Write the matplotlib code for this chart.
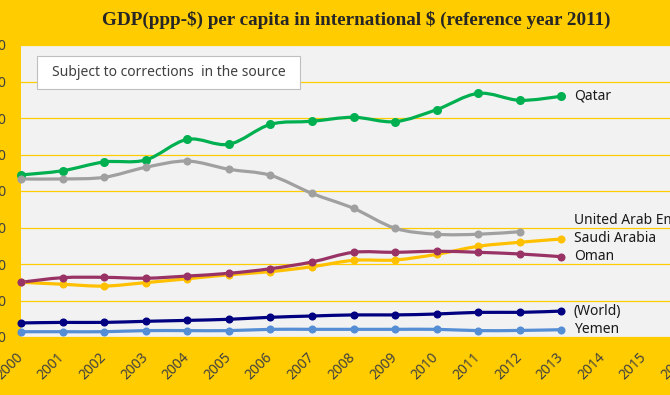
import matplotlib
matplotlib.use("Agg")
import matplotlib.pyplot as plt
from matplotlib.path import Path
from matplotlib.patches import PathPatch, Rectangle
from matplotlib.ticker import FuncFormatter
import numpy as np

years = list(range(2000, 2014))

qatar = [88.8, 91.1, 95.9, 97.0, 108.3, 105.6, 116.5, 118.2, 120.4, 118.0, 124.6, 133.5, 129.7, 131.9]
uae = [86.6, 86.6, 87.5, 93.0, 96.4, 91.9, 88.6, 78.7, 70.5, 59.6, 56.3, 56.3, 57.7]
saudi = [30.0, 28.9, 27.9, 29.8, 31.9, 34.1, 35.8, 38.5, 42.0, 42.2, 45.3, 49.7, 51.9, 53.7]
oman = [30.0, 32.5, 32.7, 32.2, 33.4, 34.9, 37.4, 41.1, 46.4, 46.4, 47.0, 46.4, 45.5, 44.0]
world = [7.7, 8.0, 8.0, 8.6, 9.1, 9.7, 10.8, 11.5, 12.1, 12.1, 12.6, 13.5, 13.5, 14.2]
yemen = [2.9, 2.9, 2.9, 3.5, 3.5, 3.5, 4.2, 4.2, 4.2, 4.2, 4.2, 3.5, 3.6, 4.0]

# thousands of int$ -> int$
series = [
    ("Qatar", qatar, "#00B050"),
    ("United Arab Emirates", uae, "#A0A0A0"),
    ("Saudi Arabia", saudi, "#FFC000"),
    ("Oman", oman, "#993366"),
    ("(World)", world, "#000080"),
    ("Yemen", yemen, "#558ED5"),
]
label_values = {"United Arab Emirates": 63.6}

x_ticks = list(range(2000, 2017))
y_ticks = list(range(0, 160001, 20000))

title = "GDP(ppp-$) per capita in international $ (reference year 2011)"
note = "Subject to corrections  in the source"

YELLOW = "#FFCC00"

fig = plt.figure(figsize=(6.7, 3.95), dpi=100, facecolor=YELLOW)
ax = fig.add_axes([21 / 670, 58 / 395, 665 / 670, 292 / 395])
ax.set_facecolor("#F2F2F2")
ax.set_xlim(2000, 2016)
ax.set_ylim(0, 160000)
for s in ax.spines.values():
    s.set_visible(False)
ax.set_yticks(y_ticks)
ax.set_xticks(x_ticks)
ax.yaxis.set_major_formatter(FuncFormatter(lambda v, p: f"{int(v):,}".replace(",", " ")))
ax.grid(axis="y", color="#FFCC00", linewidth=0.9)
ax.set_axisbelow(True)
ax.tick_params(axis="both", length=0, colors="#404040", labelsize=10)
ax.tick_params(axis="y", pad=11)
ax.tick_params(axis="x", pad=13)
for lab in ax.get_xticklabels():
    lab.set_rotation(45)
    lab.set_ha("right")
    lab.set_va("center")
    lab.set_rotation_mode("anchor")
    lab.set_fontfamily("Noto Sans")
for lab in ax.get_yticklabels():
    lab.set_fontfamily("Noto Sans")


def smooth_path(xs, ys):
    pts = np.column_stack([xs, ys]).astype(float)
    n = len(pts)
    verts = [pts[0]]
    codes = [Path.MOVETO]
    for i in range(n - 1):
        p0 = pts[i - 1] if i > 0 else pts[i]
        p1 = pts[i]
        p2 = pts[i + 1]
        p3 = pts[i + 2] if i + 2 < n else pts[i + 1]
        c1 = p1 + (p2 - p0) / 6.0
        c2 = p2 - (p3 - p1) / 6.0
        verts += [c1, c2, p2]
        codes += [Path.CURVE4] * 3
    return Path(verts, codes)


for name, vals, col in series:
    xs = years[: len(vals)]
    ys = [v * 1000 for v in vals]
    patch = PathPatch(smooth_path(xs, ys), facecolor="none", edgecolor=col,
                      linewidth=2.3, capstyle="round", joinstyle="round",
                      transform=ax.transData, clip_on=False)
    ax.add_patch(patch)
    ms = 6.5 if name == "Qatar" else 5.8
    ax.plot(xs, ys, linestyle="none", marker="o", markersize=ms, color=col,
            markeredgewidth=0, clip_on=False)
    ly = label_values.get(name, vals[-1]) * 1000
    ax.text(2013.3, ly, name, fontsize=10, color="#1a1a1a", va="center",
            ha="left", family="Noto Sans", clip_on=False)

fig.patches.append(Rectangle((37 / 670, (395 - 89) / 395), 263 / 670, 33 / 395,
                             transform=fig.transFigure, facecolor="white",
                             edgecolor="#BFBFBF", linewidth=0.8, zorder=5))
fig.text(168.5 / 670, (395 - 72.5) / 395, note, fontsize=10, color="#404040",
         ha="center", va="center", family="Noto Sans", zorder=6)

fig.text(356 / 670, (395 - 20) / 395, title, fontsize=13.8, fontweight="bold",
         family="Liberation Serif", color="#262626", ha="center", va="center",
         parse_math=False)

fig.savefig("out.png", dpi=100, facecolor=YELLOW)
